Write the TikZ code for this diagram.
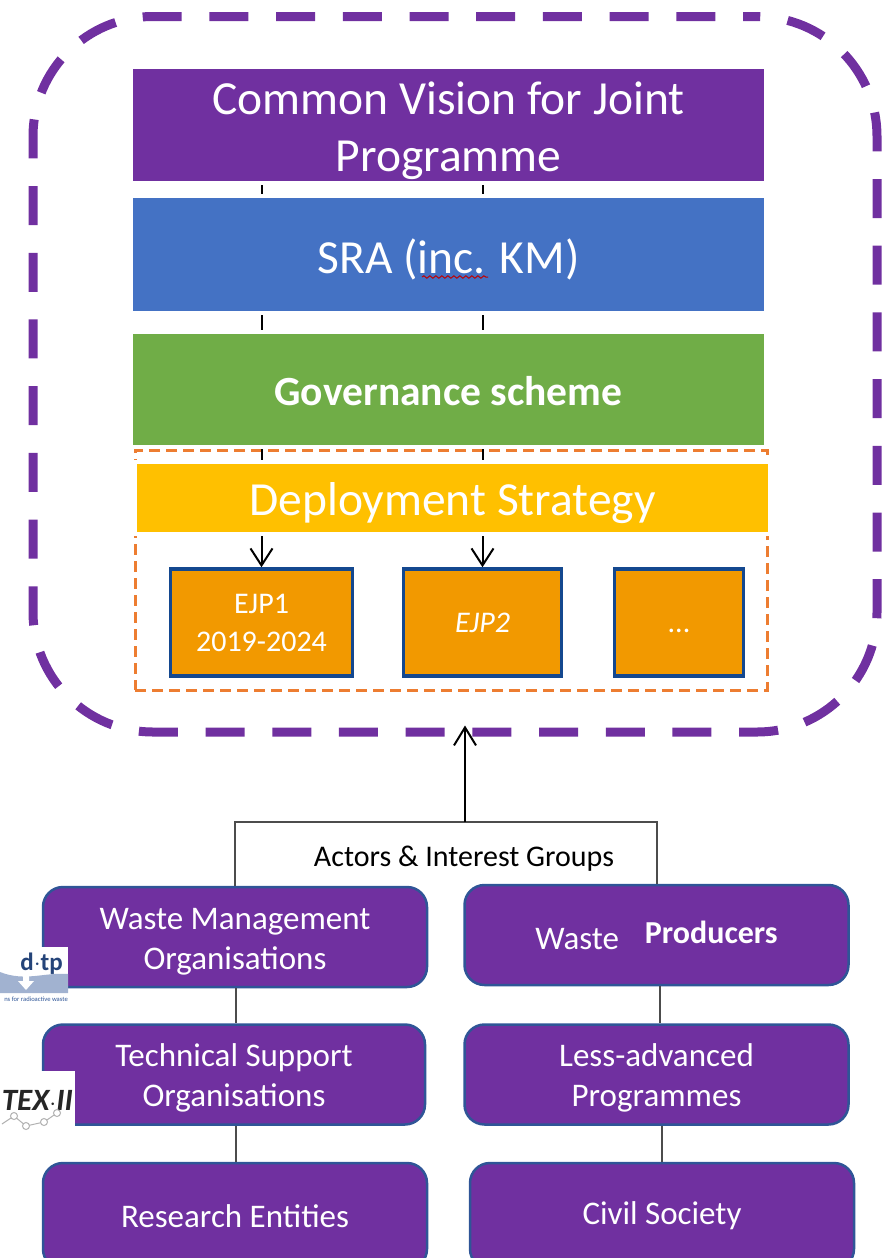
\documentclass[tikz,border=0pt]{standalone}
\usepackage{fontspec}
\setmainfont{Carlito}
\usetikzlibrary{arrows.meta, backgrounds, decorations.pathmorphing, positioning}
\definecolor{jpPurple}{HTML}{7030A0}
\definecolor{jpBlue}{HTML}{4472C4}
\definecolor{jpGreen}{HTML}{70AD47}
\definecolor{jpYellow}{HTML}{FFC000}
\definecolor{jpOrange}{HTML}{F29900}
\definecolor{jpDash}{HTML}{ED7D31}
\definecolor{jpEdge}{HTML}{2F5597}
\definecolor{jpEjpEdge}{HTML}{14488F}
\newcommand{\padTo}[1]{\rule{0pt}{#1}}
\tikzstyle{bandBox}=[draw=white,line width=4pt,minimum width=635pt,text=white,align=center,inner sep=0pt]
\tikzstyle{ejpBox}=[draw=jpEjpEdge,fill=jpOrange,line width=3.5pt,minimum height=107pt,text=white,align=center,inner sep=0pt,font=\fontsize{30}{38}\selectfont]
\tikzstyle{actorBox}=[draw=jpEdge,fill=jpPurple,line width=2.5pt,rounded corners=20pt,text=white,align=center,inner sep=0pt,font=\fontsize{33}{40}\selectfont,minimum width=384pt,minimum height=100pt]
\tikzstyle{tickLine}=[black,line width=2pt]
\tikzstyle{treeLine}=[black!70,line width=2pt]
\begin{document}
\begin{tikzpicture}[x=1pt,y=-1pt]
    \useasboundingbox (0,0) rectangle (890,1258);

    \node (outer)[draw=jpPurple,line width=9pt,dash pattern=on 39pt off 27.7pt,dash phase=25pt,rounded corners=120pt,minimum width=844pt,minimum height=715.5pt] at (455,374.25) {};

    \node (vision)[bandBox,fill=jpPurple,minimum height=116pt,font=\fontsize{47.5}{57}\selectfont] at (448.5,125) {\padTo{45pt}Common Vision for Joint\\Programme};
    \node (sra)[bandBox,fill=jpBlue,minimum height=117pt,font=\fontsize{47.5}{50}\selectfont] at (448.5,254.5) {\padTo{44pt}SRA (inc. KM)};
    \node (gov)[bandBox,fill=jpGreen,minimum height=115pt,font=\fontsize{41.5}{44}\selectfont\bfseries] at (448.5,389.5) {\padTo{32pt}Governance scheme};
    \node (deploy)[bandBox,fill=jpYellow,minimum height=72pt,font=\fontsize{47.5}{50}\selectfont] at (452.5,498) {\padTo{43pt}Deployment Strategy};

    \node (ejp1)[ejpBox,minimum width=182pt] at (261.5,622.5) {EJP1\\2019-2024};
    \node (ejp2)[ejpBox,minimum width=158pt] at (482.5,622.5) {\itshape EJP2};
    \node (ejp3)[ejpBox,minimum width=129pt] at (679,622.5) {\padTo{20pt}...};

    \coordinate (wavyL) at (422,277);
    \coordinate (wavyR) at (488,277);
    \draw[red!75!black,line width=1pt,decorate,decoration={snake,amplitude=1.2pt,segment length=6pt}] (wavyL) -- (wavyR);

    \begin{scope}[on background layer]
        \node (strategy)[draw=jpDash,line width=3pt,dash pattern=on 11pt off 6pt,minimum width=632pt,minimum height=240pt] at (451,570) {};
        \draw[tickLine,-{Straight Barb[length=17pt,width=22pt]}] (vision.south -| ejp1.north) -- (ejp1.north);
        \draw[tickLine,-{Straight Barb[length=17pt,width=22pt]}] (vision.south -| ejp2.north) -- (ejp2.north);
    \end{scope}

    \node (wmo)[actorBox] at (235,937) {\padTo{31pt}Waste Management\\Organisations};
    \node (prod)[actorBox] at (656.5,935) {Waste\hspace{26pt}\raisebox{6pt}{\fontsize{32}{40}\selectfont\bfseries Producers}};
    \node (tso)[actorBox,minimum width=382pt] at (234,1074.5) {\padTo{29pt}Technical Support\\Organisations};
    \node (lap)[actorBox] at (656.5,1074.5) {\padTo{29pt}Less-advanced\\Programmes};
    \node (res)[actorBox,minimum height=106pt] at (235,1216) {Research Entities};
    \node (civil)[actorBox,minimum height=106pt] at (662,1216) {Civil Society};

    \node (groups)[font=\fontsize{30}{34}\selectfont] at (464,859) {Actors \& Interest Groups};
    \coordinate (fork) at (465,822);

    \draw[treeLine] (wmo.north -| 235,0) |- (fork) -| (prod.north -| 657,0);
    \draw[black,line width=2pt,shorten >=-11pt,-{Straight Barb[length=18pt,width=22pt]}] (fork) -- (outer.south -| fork);
    \draw[treeLine] (wmo.south -| 236,0) -- (tso.north -| 236,0);
    \draw[treeLine] (tso.south -| 236,0) -- (res.north -| 236,0);
    \draw[treeLine] (prod.south -| 660,0) -- (lap.north -| 660,0);
    \draw[treeLine] (lap.south -| 662,0) -- (civil.north -| 662,0);

    % logos at the left edge
    \node (logoA)[fill=white,minimum width=68pt,minimum height=56pt,inner sep=0pt,anchor=north west] at (0,947) {};
    \fill[jpEdge!45] (0,972) .. controls (25,982) and (45,972) .. (68,974) -- (68,993) -- (0,993) -- cycle;
    \fill[white] (23,968) -- (29,968) -- (29,981) -- (34,981) -- (26,990) -- (18,981) -- (23,981) -- cycle;
    \node (logoAname)[text=jpEdge!80!black,inner sep=0pt,anchor=east,font=\fontsize{25}{25}\selectfont\bfseries] at (63,964) {d$\cdot$tp};
    \node (logoAsub)[text=jpEdge,inner sep=0pt,anchor=east,font=\fontsize{6.6}{8}\selectfont] at (68,999) {ns for radioactive waste};

    \node (logoB)[fill=white,minimum width=75pt,minimum height=62pt,inner sep=0pt,anchor=north west] at (0,1071) {};
    \node (logoBname)[text=black!85,inner sep=0pt,anchor=east,font=\fontsize{31}{31}\selectfont\bfseries\itshape] at (73,1100) {TEX$\cdot$II};
    \draw[black!30,line width=1pt] (2,1124) -- (14,1116) -- (26,1126) -- (44,1122) -- (57,1113);
    \foreach \molX/\molY in {14/1116, 26/1126, 44/1122, 57/1113}
        \draw[black!30,line width=1pt,fill=white] (\molX,\molY) circle (3.5pt);
\end{tikzpicture}
\end{document}
